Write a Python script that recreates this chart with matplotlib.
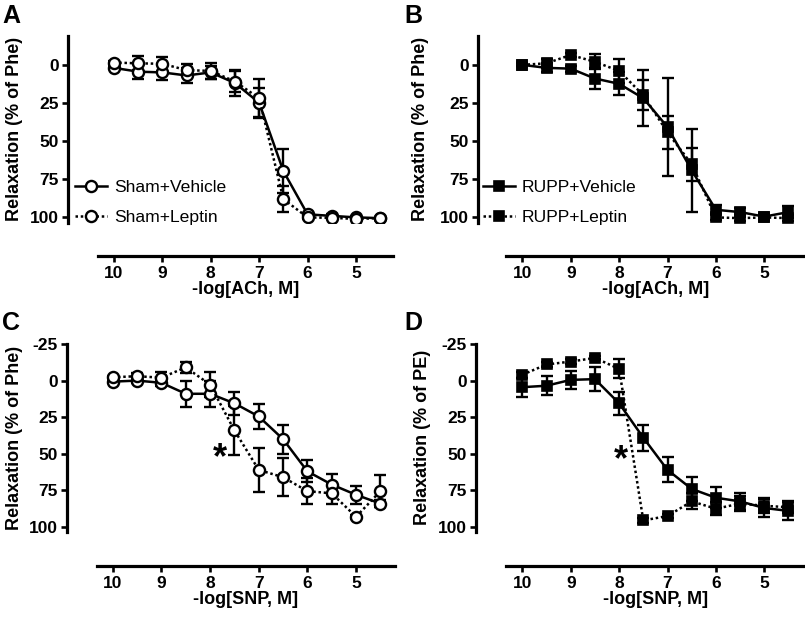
import matplotlib
matplotlib.use("Agg")
import matplotlib.pyplot as plt

plt.rcParams['font.family'] = ['Liberation Sans', 'DejaVu Sans']

# ---------------- data ----------------
log_conc = [10, 9.5, 9, 8.5, 8, 7.5, 7, 6.5, 6, 5.5, 5, 4.5]

A_vehicle = [2, 4.5, 5, 7, 5, 12, 25, 70, 98.5, 99.5, 100.5, 101]
A_vehicle_err = [1, 5, 5, 5, 4, 8.5, 9.5, 14.5, 1, 1, 1, 1]
A_leptin = [-1.5, -1, -0.7, 3.5, 4, 11, 22, 88.5, 100.5, 100.8, 101.5, 101]
A_leptin_err = [1, 4.5, 4.5, 4, 5, 7, 13, 8.5, 1, 1, 1, 1]

B_vehicle = [0, 2, 2.5, 9, 12.5, 22, 41, 69.5, 95.5, 97, 100, 97]
B_vehicle_err = [1, 3, 2, 7, 7.5, 18.5, 32.5, 27.5, 3, 3, 2, 4]
B_leptin = [0, -1, -6.5, -2, 4, 20, 44.5, 65.5, 100.5, 101, 100.5, 101]
B_leptin_err = [1, 3, 1.5, 5, 8, 10, 11, 11, 2, 2, 1.5, 2]

C_vehicle = [0.7, 0, 1.5, 9, 9, 15.5, 24.5, 40, 62, 71, 78, 84]
C_vehicle_err = [1, 1.5, 2, 9, 9, 8, 8.5, 10, 7.5, 7, 6, 2.5]
C_leptin = [-2.3, -3, -2, -9, 2.7, 34, 61, 66, 75.5, 77, 93, 75.5]
C_leptin_err = [1, 2, 4, 4, 8.5, 16.5, 15, 13, 9, 7, 1.5, 11]

D_vehicle = [4.5, 3.5, -0.5, -1, 15.5, 39, 61, 74, 80, 82.5, 87, 89]
D_vehicle_err = [6.5, 6.5, 6, 8, 8, 9, 8.5, 8.5, 7, 6, 6, 6]
D_leptin = [-4, -11, -13, -15.5, -8, 95.5, 92.5, 82.5, 87.5, 84, 85.5, 86.5]
D_leptin_err = [2, 1.5, 2, 1, 6.5, 1.5, 1.5, 5.5, 4.5, 5, 5, 4]

x_ticks = [10, 9, 8, 7, 6, 5]
y_ticks_AB = [0, 25, 50, 75, 100]
y_ticks_CD = [-25, 0, 25, 50, 75, 100]

# --------------- figure ----------------
W, H = 805, 618
fig = plt.figure(figsize=(W / 100, H / 100), dpi=100)


def rect(left, right, top, bottom):
    return [left / W, 1 - bottom / H, (right - left) / W, (bottom - top) / H]


panels = [
    dict(letter='A', rect=rect(98, 393, 36, 222.7), xlim=(10.33, 4.235), ylim=(104, -19),
         yt=y_ticks_AB, veh=A_vehicle, veh_e=A_vehicle_err, lep=A_leptin, lep_e=A_leptin_err,
         marker='o', xlabel='-log[ACh, M]', ylabel='Relaxation (% of Phe)',
         legend=('Sham+Vehicle', 'Sham+Leptin'), left_out=21.6, bottom_out=24,
         lx=-0.253, letter_xy=(2, 4), star=None),
    dict(letter='B', rect=rect(506, 805, 36, 222.7), xlim=(10.337, 4.159), ylim=(104, -19),
         yt=y_ticks_AB, veh=B_vehicle, veh_e=B_vehicle_err, lep=B_leptin, lep_e=B_leptin_err,
         marker='s', xlabel='-log[ACh, M]', ylabel='Relaxation (% of Phe)',
         legend=('RUPP+Vehicle', 'RUPP+Leptin'), left_out=20.4, bottom_out=24,
         lx=-0.2565, letter_xy=(404, 4), star=None),
    dict(letter='C', rect=rect(96.7, 395, 344, 531.7), xlim=(10.33, 4.20), ylim=(103.2, -25),
         yt=y_ticks_CD, veh=C_vehicle, veh_e=C_vehicle_err, lep=C_leptin, lep_e=C_leptin_err,
         marker='o', xlabel='-log[SNP, M]', ylabel='Relaxation (% of Phe)',
         legend=None, left_out=21.6, bottom_out=24.5,
         lx=-0.247, letter_xy=(2, 311), star=(7.8, 60)),
    dict(letter='D', rect=rect(506, 805, 344, 531.7), xlim=(10.337, 4.159), ylim=(103.2, -25),
         yt=y_ticks_CD, veh=D_vehicle, veh_e=D_vehicle_err, lep=D_leptin, lep_e=D_leptin_err,
         marker='s', xlabel='-log[SNP, M]', ylabel='Relaxation (% of PE)',
         legend=None, left_out=21.6, bottom_out=24.5,
         lx=-0.252, letter_xy=(404, 311), star=(7.96, 61)),
]

for p in panels:
    ax = fig.add_axes(p['rect'])
    if p['marker'] == 'o':
        mkw = dict(marker='o', ms=8, mfc='white', mec='black', mew=1.7)
    else:
        mkw = dict(marker='s', ms=6.8, mfc='black', mec='black', mew=1.2)

    ekw = dict(fmt='none', ecolor='black', elinewidth=1.7, capsize=4, capthick=1.7)
    ax.errorbar(log_conc, p['veh'], yerr=p['veh_e'], zorder=2, **ekw)
    ax.errorbar(log_conc, p['lep'], yerr=p['lep_e'], zorder=2, **ekw)
    h1, = ax.plot(log_conc, p['veh'], color='black', lw=1.8, ls='-', zorder=3, **mkw)
    h2, = ax.plot(log_conc, p['lep'], color='black', lw=1.8, ls=(0, (1, 1.1)), zorder=3, **mkw)

    ax.set_xlim(*p['xlim'])
    ax.set_ylim(*p['ylim'])
    ax.set_xticks(x_ticks)
    ax.set_xticklabels([str(t) for t in x_ticks])
    ax.set_yticks(p['yt'])
    ax.set_yticklabels([str(t) for t in p['yt']])

    for s in ('top', 'right'):
        ax.spines[s].set_visible(False)
    ax.spines['left'].set_position(('outward', p['left_out']))
    ax.spines['bottom'].set_position(('outward', p['bottom_out']))
    for s in ('left', 'bottom'):
        ax.spines[s].set_linewidth(2.3)
    ax.patch.set_visible(False)

    ax.tick_params(axis='both', direction='out', width=1.9, length=4.5,
                   labelsize=12.5)
    ax.tick_params(axis='y', pad=2)
    ax.tick_params(axis='x', pad=3)
    for lab in ax.get_xticklabels() + ax.get_yticklabels():
        lab.set_fontweight('bold')

    ax.set_xlabel(p['xlabel'], fontsize=13, fontweight='bold', labelpad=0)
    ax.set_ylabel(p['ylabel'], fontsize=13, fontweight='bold')
    ax.yaxis.set_label_coords(p['lx'], 0.5)

    if p['legend']:
        ax.legend([h1, h2], list(p['legend']), loc='center left',
                  bbox_to_anchor=(-0.078, 0.11), frameon=False, fontsize=12.6,
                  handlelength=1.85, handletextpad=0.4, labelspacing=0.85,
                  borderpad=0, borderaxespad=0)

    if p['star']:
        ax.text(p['star'][0], p['star'][1], '*', fontsize=26, fontweight='bold',
                ha='center', va='baseline')

    fig.text(p['letter_xy'][0] / W, 1 - p['letter_xy'][1] / H, p['letter'],
             fontsize=18, fontweight='bold', ha='left', va='top')

fig.savefig('out.png', dpi=100)
